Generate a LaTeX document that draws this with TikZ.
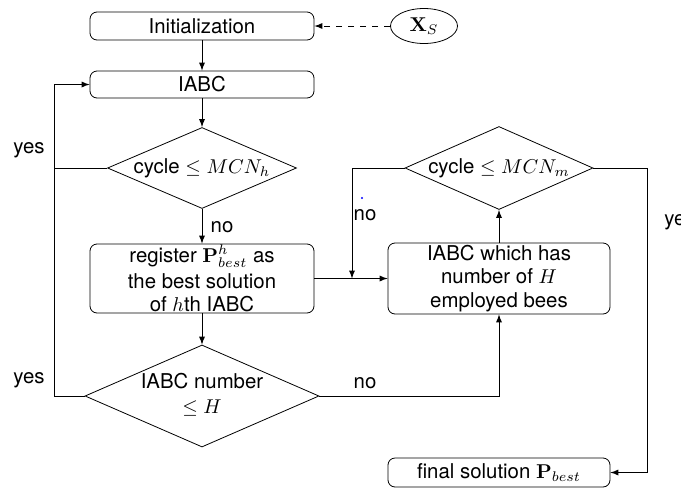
\documentclass[tikz,border=0pt]{standalone}
\usepackage[no-math]{fontspec}
\setmainfont{TeX Gyre Heros}
\usetikzlibrary{shapes.geometric}

\tikzset{
    process/.style={draw, rounded corners=3.5pt, align=center, inner sep=0pt, minimum width=112pt},
    decision/.style={draw, diamond, inner sep=0pt},
}

\begin{document}
\begin{tikzpicture}[x=0.5pt, y=-0.5pt, >=latex, font=\fontsize{10.2}{11.6}\selectfont]
    \useasboundingbox (0,0) rectangle (681,488);
    % left column
    \node[process, minimum height=14pt] (init) at (202,26) {Initialization};
    \node[draw, ellipse, inner sep=0pt, minimum width=33.5pt, minimum height=17.5pt] (xs) at (424,26) {$\mathbf{X}_S$};
    \node[process, minimum height=13.5pt] (iabc) at (202,84.5) {IABC};
    \node[decision, minimum width=94.5pt, minimum height=40.5pt] (d1) at (202,168) {\makebox[0pt]{cycle $\le MCN_h$}};
    \node[process, minimum height=34.5pt] (reg) at (202,278.5) {register $\mathbf{P}^h_{best}$ as\\[1.5pt]the best solution\\of $h$th IABC};
    \node[decision, minimum width=117pt, minimum height=51pt] (d2) at (202,396) {\makebox[0pt]{\begin{tabular}{@{}c@{}}IABC number\\[1pt]$\le H$\end{tabular}}};
    % right column
    \node[process, minimum width=111pt, minimum height=35.5pt] (emp) at (499,278.5) {IABC which has\\number of $H$\\employed bees};
    \node[decision, minimum width=94pt, minimum height=41.5pt] (d3) at (499,168) {\makebox[0pt]{cycle $\le MCN_m$}};
    \node[process, minimum width=111pt, minimum height=14.5pt] (final) at (499,472.5) {final solution $\mathbf{P}_{best}$};
    % bends
    \coordinate (lft) at (54,168);
    \coordinate (nom) at (352,278.5);
    \coordinate (rgt) at (647,168);
    % labels
    \node (yes1) at (29,150) {yes};
    \node (yes2) at (29,380) {yes};
    \node (no1) at (222,227) {no};
    \node (no2) at (365,215) {no};
    \node (no3) at (365,383) {no};
    \node[anchor=west, inner sep=0pt] (yes3) at (664,222) {yes};
    \fill[blue] (362,198) circle (0.6pt);
    % connectors
    \draw[->, dashed] (xs) -- (init);
    \draw[->] (init) -- (iabc);
    \draw[->] (iabc) -- (d1);
    \draw[->] (d1) -- (reg);
    \draw[->] (reg) -- (d2);
    \draw[->] (d1.west) -- (lft) |- (iabc.west);
    \draw (d2.west) -| (lft);
    \draw[->] (reg.east) -- (emp.west);
    \draw[->] (d3.west) -| (nom);
    \draw[->] (emp.north) -- (d3.south);
    \draw[->] (d2.east) -| (emp.south);
    \draw[->] (d3.east) -- (rgt) |- (final.east);
\end{tikzpicture}
\end{document}
